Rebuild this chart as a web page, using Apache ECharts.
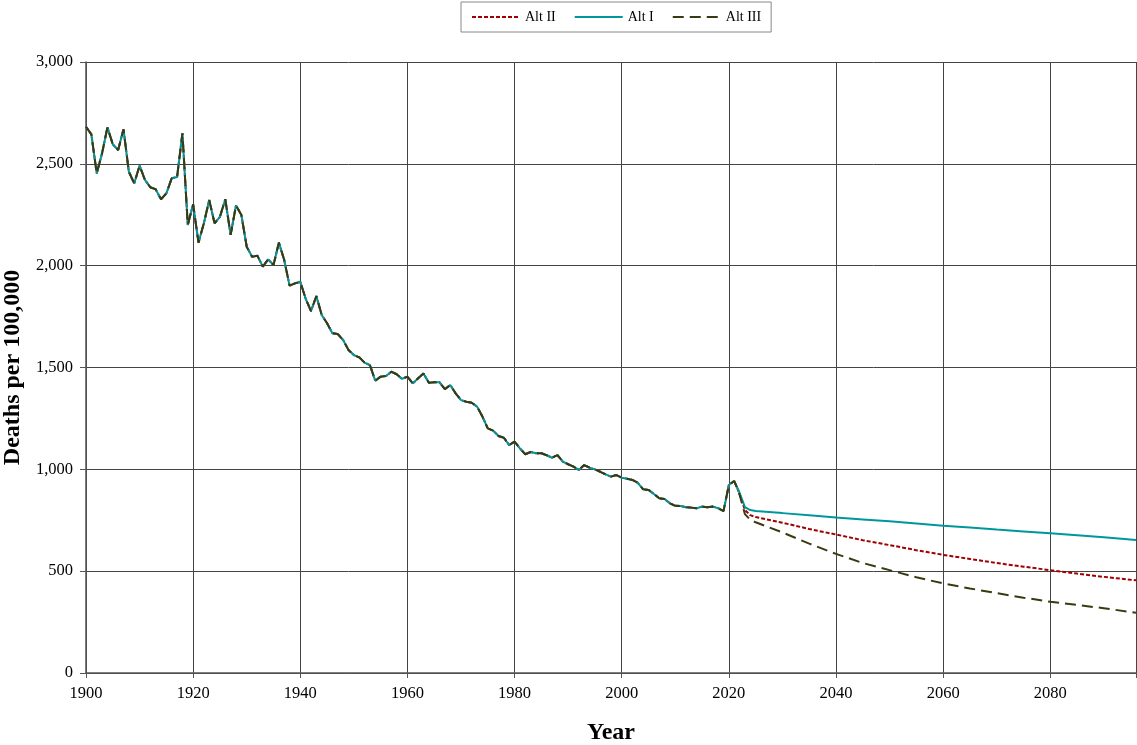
<!DOCTYPE html>
<html><head><meta charset="utf-8">
<script src="https://cdn.jsdelivr.net/npm/echarts@6/dist/echarts.min.js"></script>
<style>html,body{margin:0;padding:0;background:#fff}#c{width:1137px;height:745px}</style>
</head><body><div id="c"></div>
<script>
// Historical deaths per 100,000 (1900-2021), shared by all alternatives
const histStart = 1900;
const histValues = [2682,2645,2453,2552,2679,2596,2568,2670,2461,2404,
2491,2421,2385,2375,2326,2355,2429,2435,2650,2200,
2301,2113,2208,2322,2208,2240,2326,2151,2296,2249,
2093,2044,2049,1995,2031,2003,2113,2028,1902,1913,
1921,1838,1777,1851,1758,1717,1668,1664,1635,1586,
1561,1550,1524,1512,1435,1455,1458,1479,1467,1444,
1455,1422,1447,1471,1425,1427,1427,1394,1414,1373,
1340,1332,1327,1308,1259,1201,1190,1164,1155,1119,
1136,1103,1074,1085,1079,1079,1069,1057,1070,1038,
1025,1013,997,1021,1008,1000,988,975,964,972,
959,954,948,934,902,899,879,858,854,833,
821,820,814,812,809,817,814,817,809,795,
923,943];
// Projection years and values
const projYears = [2022,2023,2024,2025,2030,2035,2040,2045,2050,2055,2060,2065,2070,2075,2080,2085,2090,2096];
const altI   = [885,815,800,795,785,774,763,754,745,734,723,714,704,695,686,676,666,653];
const altII  = [880,800,775,766,738,707,680,652,628,603,580,560,540,522,505,488,472,455];
const altIII = [875,780,752,740,690,635,585,540,505,470,440,415,392,370,350,334,318,296];
const yTicks = [0,500,1000,1500,2000,2500,3000];

function build(proj){
  const d = histValues.map((v,i)=>[histStart+i, v]);
  proj.forEach((v,i)=>d.push([projYears[i], v]));
  return d;
}
const font = 'Liberation Serif';
const chart = echarts.init(document.getElementById('c'));
chart.setOption({
  animation:false,
  textStyle:{fontFamily:font,color:'#000'},
  legend:{
    left:461, top:2, orient:'horizontal',
    borderColor:'#888', borderWidth:1, padding:[8,10,8,10],
    itemWidth:48, itemHeight:12, itemGap:18,
    itemStyle:{opacity:0},
    textStyle:{fontFamily:font,fontSize:14,color:'#000'},
    data:['Alt II','Alt I','Alt III']
  },
  grid:{left:86, right:1, top:62, bottom:72, containLabel:false, outerBoundsMode:'none'},
  xAxis:{
    type:'value', min:1900, max:2096, interval:20,
    name:'Year', nameLocation:'middle', nameGap:48,
    nameTextStyle:{fontFamily:font,fontSize:24,fontWeight:'bold',color:'#000'},
    axisLine:{show:true,onZero:false,lineStyle:{color:'#555',width:1.5}},
    axisTick:{show:true,length:5,lineStyle:{color:'#555'}},
    axisLabel:{fontFamily:font,fontSize:16.5,color:'#000',margin:12,
      formatter:v=> (v%20===0? String(v):'')},
    splitLine:{show:true,lineStyle:{color:'#444',width:1}}
  },
  yAxis:{
    type:'value', min:0, max:3000, interval:500,
    name:'Deaths per 100,000', nameLocation:'middle', nameGap:55,
    nameTextStyle:{fontFamily:font,fontSize:24,fontWeight:'bold',color:'#000'},
    axisLine:{show:true,lineStyle:{color:'#555',width:1.5}},
    axisTick:{show:true,length:6,lineStyle:{color:'#555'}},
    axisLabel:{fontFamily:font,fontSize:16.5,color:'#000',margin:13,
      formatter:v=> yTicks.includes(v)? v.toLocaleString('en-US'):''},
    splitLine:{show:true,lineStyle:{color:'#444',width:1}}
  },
  series:[
    {name:'Alt II', type:'line', data:build(altII), symbol:'none', z:2,
      color:'#A00000', lineStyle:{color:'#A00000',width:2,type:[4,2]}},
    {name:'Alt I', type:'line', data:build(altI), symbol:'none', z:3,
      color:'#00979C', lineStyle:{color:'#00979C',width:2,type:'solid'}},
    {name:'Alt III', type:'line', data:build(altIII), symbol:'none', z:4,
      color:'#3A3A10', lineStyle:{color:'#3A3A10',width:2,type:[11,6]}}
  ]
});
</script></body></html>
